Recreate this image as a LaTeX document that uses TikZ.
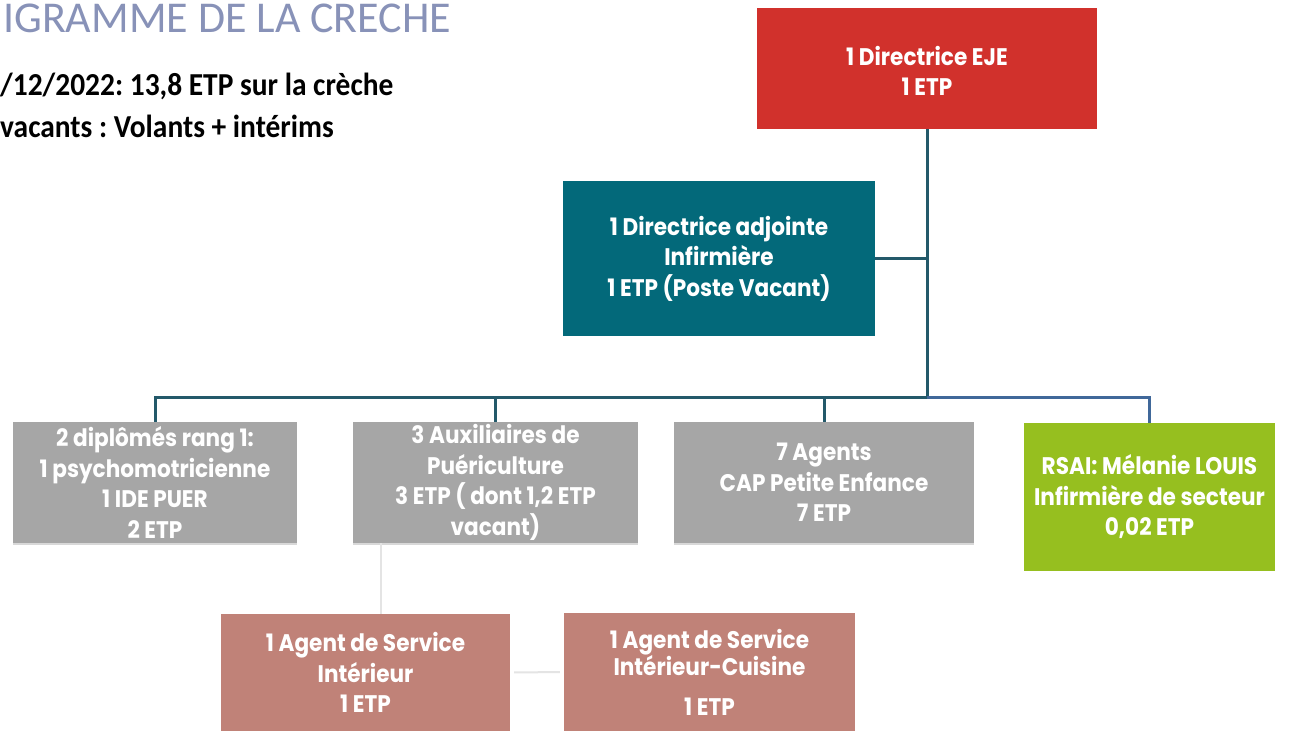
\documentclass[tikz,border=0pt]{standalone}
\usepackage{fontspec}
\setmainfont{Carlito}
\newfontfamily\boxfont[FakeStretch=0.9]{Poppins}
\newfontfamily\hdfont[FakeStretch=0.92]{Carlito}
\usetikzlibrary{shadows}
\definecolor{redbox}{HTML}{D1312C}
\definecolor{tealbox}{HTML}{03697A}
\definecolor{graybox}{HTML}{A6A6A6}
\definecolor{greenbox}{HTML}{96BF1F}
\definecolor{pinkbox}{HTML}{C08278}
\definecolor{linedark}{HTML}{23596A}
\definecolor{lineblue}{HTML}{40689A}
\definecolor{linefaint}{HTML}{E4E4E4}
\definecolor{titlecol}{HTML}{8892B8}
\frenchspacing
\begin{document}
\begin{tikzpicture}[x=1pt,y=-1pt,
  orgbox/.style={rectangle, inner sep=0pt, align=center, text=white,
    font=\boxfont\bfseries\fontsize{24}{30.5}\selectfont},
  shadowed/.style={drop shadow={shadow xshift=0pt,shadow yshift=-2pt,opacity=0.3}},
  conn/.style={draw=linedark, line width=3pt},
  bconn/.style={draw=lineblue, line width=3pt},
  faint/.style={draw=linefaint, line width=2pt},
  hdtext/.style={anchor=base west, inner sep=0pt}]
\fill[white] (0,0) rectangle (1291,731);
\useasboundingbox (0,0) rectangle (1291,731);

\node[hdtext, text=titlecol, text height=28pt, font=\fontsize{44}{44}\selectfont] (title) at (3,32) {IGRAMME DE LA CRECHE};
\node[hdtext, font=\hdfont\bfseries\fontsize{32}{32}\selectfont] (l1) at (0,95) {/12/2022: 13,8 ETP sur la crèche};
\node[hdtext, font=\hdfont\bfseries\fontsize{32}{32}\selectfont] (l2) at (0,137) {vacants : Volants + intérims};

\node[orgbox, fill=redbox, minimum width=340pt, minimum height=121pt] (dir) at (927,68.5) {\rule{0pt}{24pt}1 Directrice EJE\\1 ETP};
\node[orgbox, fill=tealbox, minimum width=312pt, minimum height=155pt] (adj) at (719,258.5) {1 Directrice adjointe\\Infirmière\\1 ETP (Poste Vacant)};
\node[orgbox, shadowed, fill=graybox, minimum width=284pt, minimum height=121pt] (g1) at (155,482.5) {2 diplômés rang 1:\\1 psychomotricienne\\1 IDE PUER\\2 ETP};
\node[orgbox, shadowed, fill=graybox, minimum width=285pt, minimum height=121pt] (g2) at (495.5,482.5) {3 Auxiliaires de\\Puériculture\\3 ETP ( dont 1,2 ETP\\vacant)};
\node[orgbox, shadowed, fill=graybox, minimum width=300pt, minimum height=121pt] (g3) at (824,482.5) {7 Agents\\CAP Petite Enfance\\7 ETP};
\node[orgbox, fill=greenbox, minimum width=251pt, minimum height=148pt] (gr) at (1149.5,497) {RSAI: Mélanie LOUIS\\Infirmière de secteur\\0,02 ETP};
\node[orgbox, fill=pinkbox, minimum width=289pt, minimum height=117pt] (pa) at (365.5,672.5) {1 Agent de Service\\Intérieur\\1 ETP};
\node[orgbox, fill=pinkbox, minimum width=291pt, minimum height=118pt] (pb) at (709.5,672) {1 Agent de Service\\[-3pt]Intérieur-Cuisine\\[9pt]1 ETP};

\coordinate (j) at (927,397);
\draw[conn] (dir.south) -- (j);
\draw[conn] (adj.east) -- (adj.east -| j);
\draw[conn] (g1.north) -- (g1.north |- j) -- (j);
\draw[conn] (g2.north) -- (g2.north |- j);
\draw[conn] (g3.north) -- (g3.north |- j);
\draw[bconn] (j) -- (gr.north |- j) -- (gr.north);
\draw[faint] ([xshift=15.5pt]pa.north) -- ([xshift=15.5pt]pa.north |- g2.south);
\draw[faint, shorten <=4pt, shorten >=4pt] (pa.east) -- (pb.west);
\end{tikzpicture}
\end{document}
